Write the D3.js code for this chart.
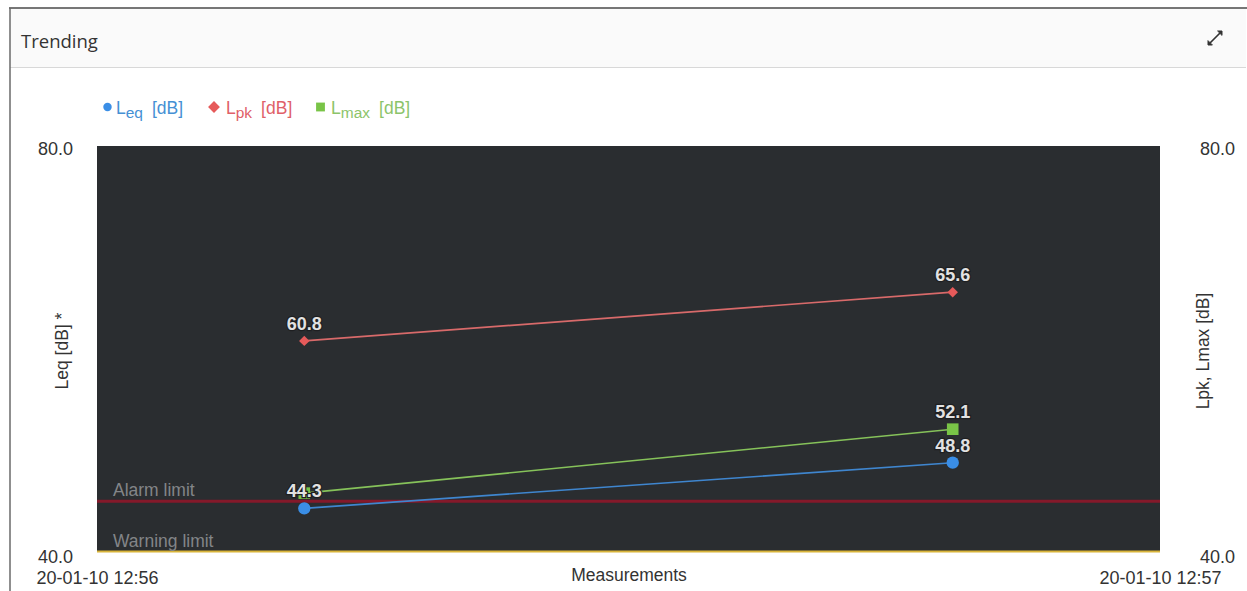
<!DOCTYPE html>
<html><head><meta charset="utf-8">
<script src="https://cdn.jsdelivr.net/npm/d3@7"></script>
<style>
html,body{margin:0;padding:0;background:#fff;}
svg{display:block;font-family:"Liberation Sans",Arial,sans-serif;}
</style></head>
<body><svg id="c" width="1247" height="591"></svg>
<script>
// ---- data ----
const times = ["2020-01-10T12:56:11.7", "2020-01-10T12:56:48.3"];
const xDomain = ["2020-01-10T12:56:00", "2020-01-10T12:57:00"];
const leq = [44.3, 48.8];
const lpk = [60.8, 65.6];
const lmax = [45.8, 52.1];
const leqLabels = [true, true];
const lmaxLabels = [false, true];
const lpkLabels = [true, true];
const yTicks = [40, 80];
const limitNames = ["Alarm limit", "Warning limit"];
const limitValues = [45, 40];
const legendNames = [["L", "eq", "[dB]"], ["L", "pk", "[dB]"], ["L", "max", "[dB]"]];

const svg = d3.select("#c");
const W = 1247, H = 591;
const m = {left: 97, right: 1160, top: 146, bottom: 552};

// frame
svg.append("rect").attr("x", 0).attr("y", 0).attr("width", W).attr("height", H).attr("fill", "#fff");
svg.append("rect").attr("x", 10).attr("y", 8).attr("width", 1236).attr("height", 59).attr("fill", "#fafafa");
svg.append("line").attr("x1", 10).attr("x2", 1246).attr("y1", 67.5).attr("y2", 67.5).attr("stroke", "#d8d8d8").attr("stroke-width", 1.2);
svg.append("line").attr("x1", 9).attr("x2", 1247).attr("y1", 8).attr("y2", 8).attr("stroke", "#4a4a4a").attr("stroke-width", 1.6);
svg.append("line").attr("x1", 10).attr("x2", 10).attr("y1", 8).attr("y2", H).attr("stroke", "#6a6a6a").attr("stroke-width", 1.5);
svg.append("text").attr("x", 21).attr("y", 48).attr("font-size", 18.5).attr("fill", "#333")
  .attr("font-family", "'Open Sans','Noto Sans',sans-serif").text("Trending");
// expand icon
const ic = svg.append("g").attr("stroke", "#333").attr("stroke-width", 1.6).attr("stroke-linecap", "round");
ic.append("line").attr("x1", 1209).attr("y1", 44).attr("x2", 1221).attr("y2", 32);
ic.append("path").attr("d", "M1218,31 L1222,31 L1222,35 Z").attr("fill", "#333").attr("stroke-width", 1);
ic.append("path").attr("d", "M1208,41 L1208,45 L1212,45 Z").attr("fill", "#333").attr("stroke-width", 1);

// scales
const parse = d3.isoParse;
const x = d3.scaleTime().domain(xDomain.map(parse)).range([m.left, m.right]);
const y = d3.scaleLinear().domain([40, 80]).range([m.bottom, m.top]);
const y2 = d3.scaleLinear().domain([40, 80]).range([m.bottom, m.top]);

// plot bg
svg.append("rect").attr("x", m.left).attr("y", m.top).attr("width", m.right - m.left).attr("height", m.bottom - m.top).attr("fill", "#2a2d30");

// limits
const limitColors = ["#84192a", "#d8b43a"];
const limitLabelDy = [-5, -5];
limitValues.forEach((v, i) => {
  svg.append("line").attr("x1", m.left).attr("x2", m.right)
    .attr("y1", y(v) - (i === 1 ? 0.5 : 0)).attr("y2", y(v) - (i === 1 ? 0.5 : 0))
    .attr("stroke", limitColors[i]).attr("stroke-width", i === 1 ? 2 : 2.8);
  svg.append("text").attr("x", 113).attr("y", y(v) + limitLabelDy[i])
    .attr("font-size", 17.5).attr("fill", "#838588").text(limitNames[i]);
});

// axes
const fmt = d3.format(".1f");
const gL = svg.append("g").attr("transform", `translate(${m.left - 21},0)`)
  .call(d3.axisLeft(y).tickValues(yTicks).tickFormat(fmt).tickSize(0));
const gR = svg.append("g").attr("transform", `translate(${m.right + 37},0)`)
  .call(d3.axisRight(y2).tickValues(yTicks).tickFormat(fmt).tickSize(0));
[gL, gR].forEach(g => {
  g.select(".domain").remove();
  g.selectAll("text").attr("font-size", 18).attr("fill", "#333").attr("font-family", "'Liberation Sans',Arial,sans-serif");
  g.selectAll(".tick").filter(d => d === 80).select("text").attr("dy", "0.45em");
  g.selectAll(".tick").filter(d => d === 40).select("text").attr("dy", "0.6em");
});

const gX = svg.append("g").attr("transform", `translate(0,${m.bottom + 16})`)
  .call(d3.axisBottom(x).tickValues(xDomain.map(parse)).tickFormat(d3.timeFormat("%y-%m-%d %H:%M")).tickSize(0));
gX.select(".domain").remove();
gX.selectAll("text").attr("font-size", 18).attr("fill", "#333").attr("font-family", "'Liberation Sans',Arial,sans-serif");

svg.append("text").attr("x", 629).attr("y", 581).attr("text-anchor", "middle")
  .attr("font-size", 17.5).attr("fill", "#333").text("Measurements");
svg.append("text").attr("transform", `translate(68,351) rotate(-90)`).attr("text-anchor", "middle")
  .attr("font-size", 17.5).attr("fill", "#333").text("Leq [dB] *");
svg.append("text").attr("transform", `translate(1209,351) rotate(-90)`).attr("text-anchor", "middle")
  .attr("font-size", 17.5).attr("fill", "#333").text("Lpk, Lmax [dB]");

// series
const series = [
  {vals: leq, scale: y, line: "#3f86cf", marker: "#3a8ee6", type: "circle", labels: leqLabels},
  {vals: lmax, scale: y2, line: "#86c25a", marker: "#79c447", type: "square", labels: lmaxLabels},
  {vals: lpk, scale: y2, line: "#d86a6a", marker: "#e65a5a", type: "diamond", labels: lpkLabels},
];
const pts = s => s.vals.map((v, i) => ({t: parse(times[i]), v}));
series.forEach(s => {
  const line = d3.line().x(d => x(d.t)).y(d => s.scale(d.v));
  svg.append("path").datum(pts(s)).attr("d", line).attr("fill", "none").attr("stroke", s.line).attr("stroke-width", 1.6);
});
const symMap = {circle: [d3.symbolCircle, 120, 0], square: [d3.symbolSquare, 135, 0], diamond: [d3.symbolSquare, 55, 45]};
series.forEach(s => {
  svg.selectAll(null).data(pts(s)).enter().append("path")
    .attr("transform", d => `translate(${x(d.t)},${s.scale(d.v)}) rotate(${symMap[s.type][2]})`)
    .attr("d", d3.symbol().type(symMap[s.type][0]).size(symMap[s.type][1])).attr("fill", s.marker);
});
series.forEach(s => {
  svg.selectAll(null).data(pts(s).filter((d, i) => s.labels[i])).enter().append("text")
    .attr("x", d => x(d.t)).attr("y", d => s.scale(d.v) - 11).attr("text-anchor", "middle")
    .attr("font-size", 18).attr("font-weight", "bold")
    .attr("fill", "#e2e2e2").attr("stroke", "#1e1f21").attr("stroke-width", 2.5).attr("paint-order", "stroke")
    .text(d => fmt(d.v));
});

// legend
const legX = [107.5, 214, 320.5];
const legTextX = [116, 226, 331];
const legColors = ["#3a8ee6", "#e65a5a", "#79c447"];
const legText = ["#4590d4", "#e06068", "#8cc46a"];
const legTypes = [d3.symbolCircle, d3.symbolSquare, d3.symbolSquare];
const legSizes = [56, 70, 78];
const legRot = [0, 45, 0];
legendNames.forEach((n, i) => {
  svg.append("path").attr("transform", `translate(${legX[i]},107) rotate(${legRot[i]})`).attr("d", d3.symbol().type(legTypes[i]).size(legSizes[i])).attr("fill", legColors[i]);
  const t = svg.append("text").attr("x", legTextX[i]).attr("y", 114).attr("font-size", 17.5).attr("fill", legText[i]);
  t.append("tspan").text(n[0]);
  t.append("tspan").attr("dy", 4).attr("font-size", 15.5).text(n[1]);
  t.append("tspan").attr("dy", -4).attr("dx", 9).text(n[2]);
});
</script></body></html>
